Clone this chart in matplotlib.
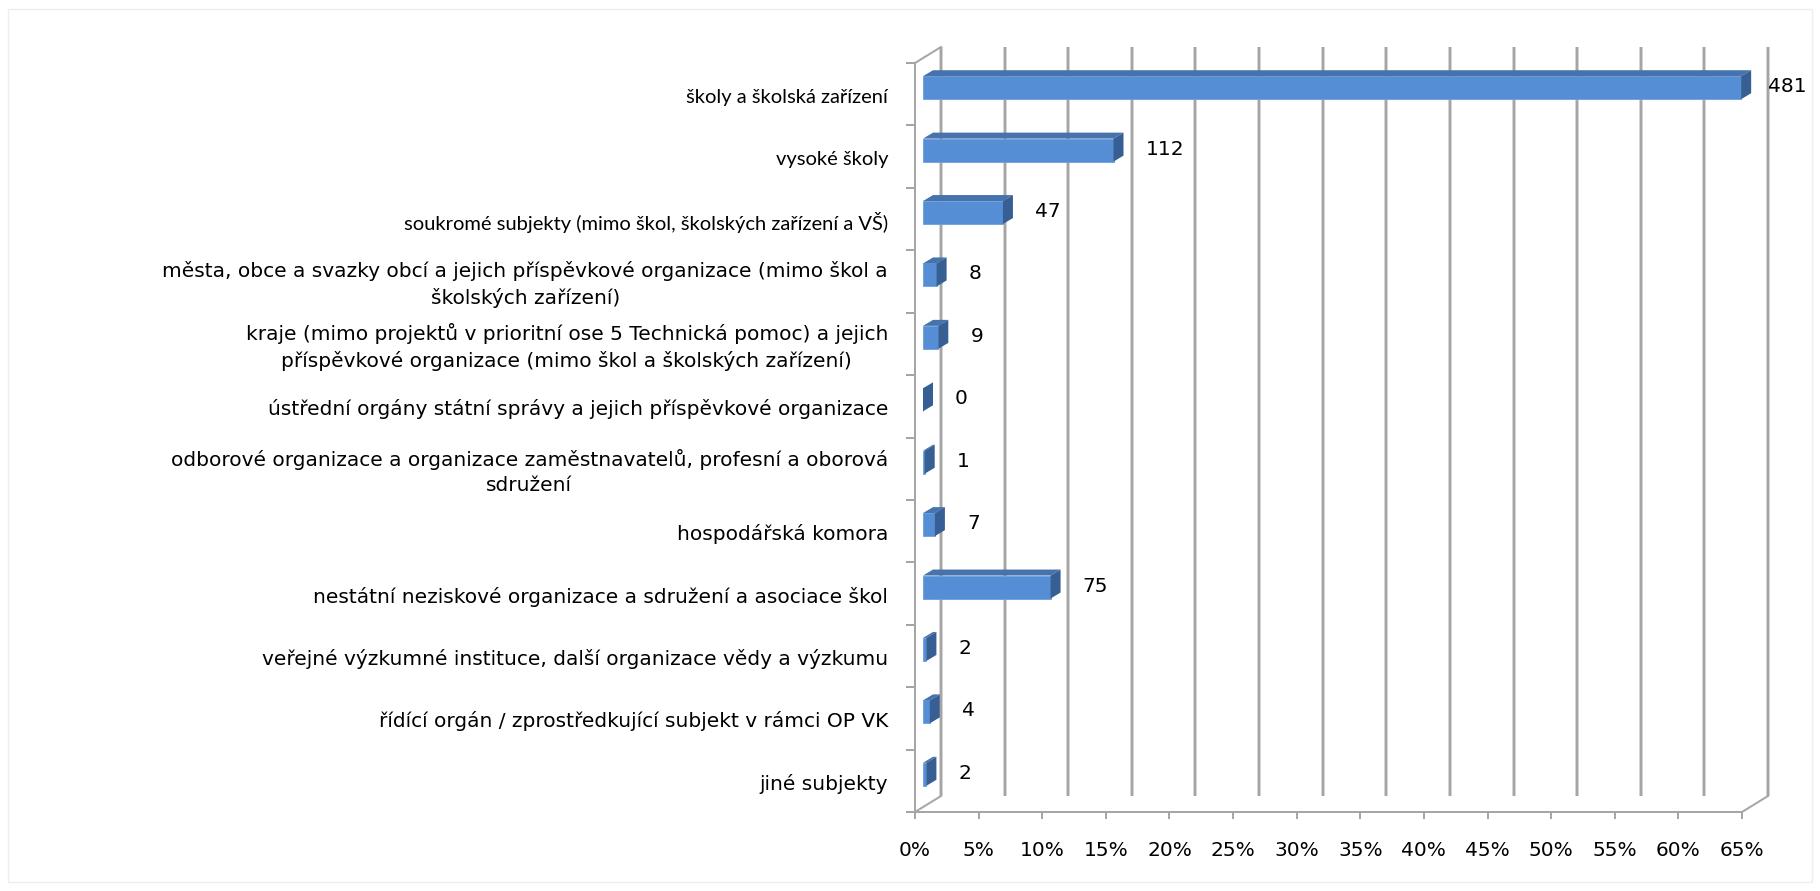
import matplotlib.pyplot as plt
from matplotlib.patches import Polygon, Rectangle

categories = [
    "školy a školská zařízení",
    "vysoké školy",
    "soukromé subjekty (mimo škol, školských zařízení a VŠ)",
    "města, obce a svazky obcí a jejich příspěvkové organizace (mimo škol a\nškolských zařízení)",
    "kraje (mimo projektů v prioritní ose 5 Technická pomoc) a jejich\npříspěvkové organizace (mimo škol a školských zařízení)",
    "ústřední orgány státní správy a jejich příspěvkové organizace",
    "odborové organizace a organizace zaměstnavatelů, profesní a oborová\nsdružení",
    "hospodářská komora",
    "nestátní neziskové organizace a sdružení a asociace škol",
    "veřejné výzkumné instituce, další organizace vědy a výzkumu",
    "řídící orgán / zprostředkující subjekt v rámci OP VK",
    "jiné subjekty",
]
counts = [481, 112, 47, 8, 9, 0, 1, 7, 75, 2, 4, 2]
xticks = list(range(0, 70, 5))

total = sum(counts)
shares = [c / total * 100 for c in counts]

# the source renders most text with wide letter spacing, the first three labels tight
WIDE = dict(family=["DejaVu Sans"], fontsize=14.5)
TIGHT = dict(family=["Lato", "DejaVu Sans"], fontsize=14.5)
tight_rows = {0, 1, 2}

DPI = 100
W, H = 1820, 891

fig = plt.figure(figsize=(W / DPI, H / DPI), dpi=DPI)
fig.patch.set_facecolor("white")
ax = fig.add_axes([915 / W, 79 / H, 827 / W, 749 / H])
n = len(categories)
ax.set_xlim(0, 65)
ax.set_ylim(-0.5, n - 0.5)
ax.axis("off")

# pixel -> data conversion for the fake 3d depth
bb = ax.get_window_extent()
px_x = bb.width / 65
px_y = bb.height / n
wall_dx, wall_dy = 26 / px_x, 16 / px_y
bar_ox, bar_oy = 8 / px_x, 6.5 / px_y
bar_dx, bar_dy = 10 / px_x, 6 / px_y
hh = 23 / px_y / 2
y_top, y_bot = n - 0.5, -0.5

pt = 72 / DPI  # pixels -> points
axis_col = "#a6a6a6"

# back wall grid lines
for v in xticks:
    xs = [v + wall_dx, v + wall_dx]
    ys = [y_bot + wall_dy, y_top + wall_dy]
    ax.plot(xs, ys, color="#d4d4d4", lw=4 * pt, solid_capstyle="butt", clip_on=False, zorder=1)
    ax.plot(xs, ys, color="#9a9a9a", lw=1.6 * pt, solid_capstyle="butt", clip_on=False, zorder=1)

# left wall and floor edges
ax.plot([0, 0], [y_bot, y_top], color=axis_col, lw=2 * pt, clip_on=False, zorder=2)
ax.plot([0, wall_dx], [y_top, y_top + wall_dy], color=axis_col, lw=2 * pt, clip_on=False, zorder=2)
ax.plot([0, wall_dx], [y_bot, y_bot + wall_dy], color=axis_col, lw=2 * pt, clip_on=False, zorder=2)
ax.plot([0, 65], [y_bot, y_bot], color=axis_col, lw=2 * pt, clip_on=False, zorder=2)
ax.plot([65, 65 + wall_dx], [y_bot, y_bot + wall_dy], color=axis_col, lw=2 * pt, clip_on=False, zorder=2)

# ticks
for v in xticks:
    ax.plot([v, v], [y_bot, y_bot - 6 / px_y], color=axis_col, lw=2 * pt, clip_on=False)
    ax.text(v, y_bot - 38 / px_y, f"{v}%", ha="center", va="center", color="black", **WIDE)
for k in range(n + 1):
    ax.plot([-8 / px_x, 0], [k - 0.5, k - 0.5], color=axis_col, lw=2 * pt, clip_on=False)

# bars
face_col = "#558ed5"
top_col = "#4673ad"
side_col = "#375f93"
labels = []
for i, (s, c) in enumerate(zip(shares, counts)):
    yc = n - 1 - i + bar_oy
    x0 = bar_ox
    x1 = bar_ox + s
    ax.add_patch(Rectangle((x0, yc - hh), s, 2 * hh, facecolor=face_col,
                           edgecolor="#6d9fdc", lw=0.6, zorder=4, clip_on=False))
    ax.add_patch(Polygon([(x0, yc + hh), (x1, yc + hh), (x1 + bar_dx, yc + hh + bar_dy),
                          (x0 + bar_dx, yc + hh + bar_dy)],
                         facecolor=top_col, edgecolor="none", zorder=4, clip_on=False))
    ax.add_patch(Polygon([(x1, yc - hh), (x1 + bar_dx, yc - hh + bar_dy),
                          (x1 + bar_dx, yc + hh + bar_dy), (x1, yc + hh)],
                         facecolor=side_col, edgecolor="none", zorder=4, clip_on=False))
    t = ax.annotate(str(c), xy=(x1 + bar_dx, yc), xytext=(22 * pt, 1 * pt),
                    textcoords="offset points", ha="left", va="center",
                    color="black", annotation_clip=False, **WIDE)
    labels.append(t)
    style = TIGHT if i in tight_rows else WIDE
    ax.text(-27 / px_x, n - 1 - i - 3 / px_y, categories[i], ha="right", va="center",
            multialignment="center", color="black", linespacing=1.4, **style)

# keep value labels inside the figure
fig.canvas.draw()
r = fig.canvas.get_renderer()
for t in labels:
    ext = t.get_window_extent(r)
    over = ext.x1 - (W - 13)
    if over > 0:
        x, y = t.get_position()
        t.set_position((x - over * pt, y))

# faint outer frame
fig.add_artist(Rectangle((8 / W, 9 / H), (W - 16) / W, (H - 18) / H, transform=fig.transFigure,
                         fill=False, edgecolor="#eeeeee", lw=1))

fig.savefig("out.png", dpi=DPI)
